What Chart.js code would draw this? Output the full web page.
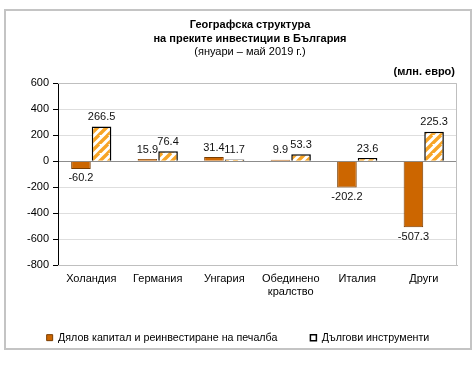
<!DOCTYPE html>
<html>
<head>
<meta charset="utf-8">
<script src="https://cdn.jsdelivr.net/npm/chart.js@4"></script>
<style>
  html, body { margin: 0; padding: 0; background: #fff; }
  #wrap { position: relative; width: 476px; height: 365px; }
  #frame { position: absolute; left: 4px; top: 9px; width: 464px; height: 337px; border: 2px solid #c4c4c4; }
  canvas { position: absolute; left: 0; top: 0; }
</style>
</head>
<body>
<div id="wrap">
  <div id="frame"></div>
  <canvas id="barCanvas" width="476" height="365"></canvas>
</div>
<script>
const countries = ["Холандия", "Германия", "Унгария", ["Обединено", "кралство"], "Италия", "Други"];
const equity = [-60.2, 15.9, 31.4, 9.9, -202.2, -507.3];
const debt = [266.5, 76.4, 11.7, 53.3, 23.6, 225.3];
const seriesNames = ["Дялов капитал и реинвестиране на печалба", "Дългови инструменти"];
const titleLines = ["Географска структура", "на преките инвестиции в България"];
const subTitle = "(януари – май 2019 г.)";
const unitLabel = "(млн. евро)";

const font = "'Liberation Sans', Arial, sans-serif";

function stripes() {
    const c = document.createElement("canvas");
    c.width = 9;
    c.height = 9;
    const g = c.getContext("2d");
    g.fillStyle = "#fff";
    g.fillRect(0, 0, 9, 9);
    g.strokeStyle = "#f7a425";
    g.lineWidth = 3.4;
    g.beginPath();
    for (let k = -9; k <= 18; k += 9) {
        g.moveTo(k - 9, 18);
        g.lineTo(k + 9, 0);
    }
    g.stroke();
    return g.createPattern(c, "repeat");
}

const textPlugin = {
    id: "texts",
    afterDraw(chart) {
        const ctx = chart.ctx;
        ctx.save();
        ctx.fillStyle = "#000";
        ctx.textAlign = "center";
        ctx.textBaseline = "middle";
        ctx.font = "bold 11px " + font;
        ctx.fillText(titleLines[0], 250, 25);
        ctx.fillText(titleLines[1], 250, 39);
        ctx.font = "11px " + font;
        ctx.fillText(subTitle, 250, 52);
        ctx.font = "bold 11px " + font;
        ctx.textAlign = "right";
        ctx.fillText(unitLabel, 455, 72);

        // plot area border
        const a = chart.chartArea;
        ctx.strokeStyle = "#bfbfbf";
        ctx.lineWidth = 1;
        ctx.beginPath();
        ctx.moveTo(a.left, a.top + 0.5);
        ctx.lineTo(a.right - 0.5, a.top + 0.5);
        ctx.lineTo(a.right - 0.5, a.bottom);
        ctx.stroke();

        // value labels
        ctx.font = "11px " + font;
        ctx.textAlign = "center";
        ctx.fillStyle = "#111";
        chart.data.datasets.forEach((ds, i) => {
            chart.getDatasetMeta(i).data.forEach((el, j) => {
                const v = ds.data[j];
                if (v >= 0) {
                    ctx.textBaseline = "bottom";
                    ctx.fillText(v.toFixed(1), el.x, el.y - 4);
                } else {
                    ctx.textBaseline = "top";
                    ctx.fillText(v.toFixed(1), el.x, el.y + 4);
                }
            });
        });
        ctx.restore();
    }
};

const barChart = new Chart(document.getElementById("barCanvas"), {
    type: "bar",
    data: {
        labels: countries,
        datasets: [{
            label: seriesNames[0],
            data: equity,
            backgroundColor: "#cc6600",
            borderColor: "#7a3d00",
            borderWidth: 1,
            categoryPercentage: 0.62,
            barPercentage: 0.95
        }, {
            label: seriesNames[1],
            data: debt,
            backgroundColor: stripes(),
            borderColor: "#000",
            borderWidth: 1.5,
            categoryPercentage: 0.62,
            barPercentage: 0.95
        }]
    },
    options: {
        responsive: false,
        animation: false,
        layout: { padding: { top: 83, left: 0, right: 0, bottom: 12 } },
        plugins: {
            tooltip: { enabled: false },
            legend: {
                position: "bottom",
                labels: {
                    font: { family: font, size: 10.7 },
                    color: "#000",
                    boxWidth: 6,
                    boxHeight: 6,
                    padding: 33,
                    generateLabels(chart) {
                        const items = Chart.defaults.plugins.legend.labels.generateLabels(chart);
                        items[1].fillStyle = "#fff";
                        return items;
                    }
                }
            }
        },
        scales: {
            y: {
                min: -800,
                max: 600,
                afterFit(scale) { scale.width = 58; },
                ticks: {
                    stepSize: 200,
                    color: "#000",
                    font: { family: font, size: 11 },
                    padding: 4
                },
                grid: {
                    color: ctx => ctx.tick && ctx.tick.value === 0 ? "#8c8c8c" : "#dedede",
                    tickColor: "#000",
                    tickLength: 5
                },
                border: { color: "#000" }
            },
            yRight: {
                position: "right",
                afterFit(scale) { scale.width = 19; },
                ticks: { display: false },
                grid: { display: false },
                border: { display: false }
            },
            x: {
                afterFit(scale) { scale.height = 34; },
                ticks: {
                    color: "#000",
                    font: { family: font, size: 11 },
                    padding: 7
                },
                grid: { display: false, drawTicks: false },
                border: { color: "#bfbfbf" }
            }
        }
    },
    plugins: [textPlugin]
});
</script>
</body>
</html>
